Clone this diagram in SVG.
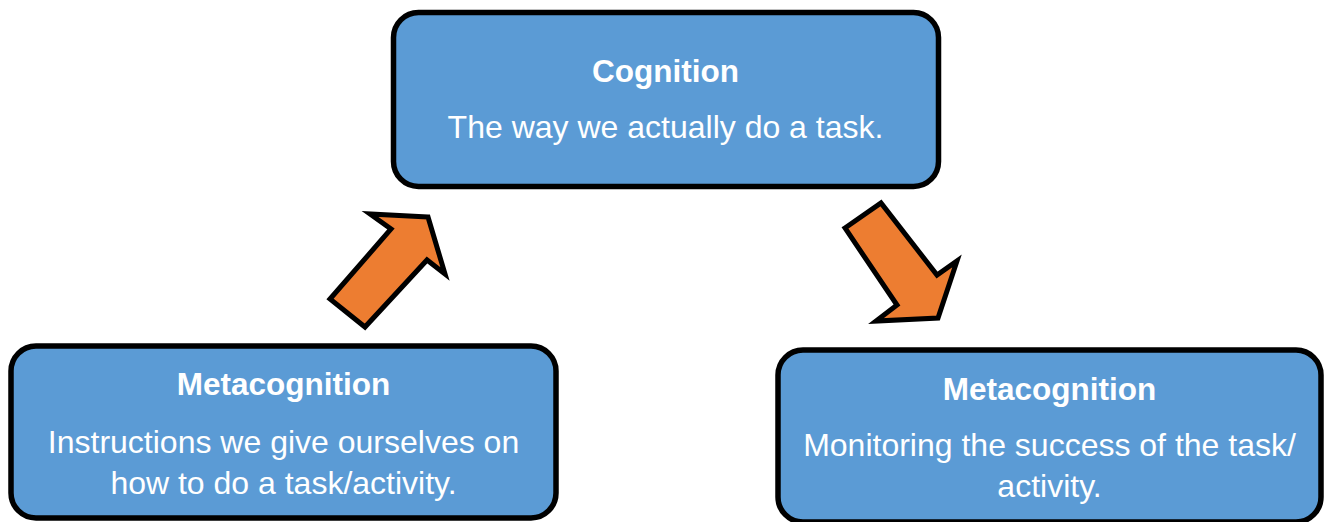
<svg xmlns="http://www.w3.org/2000/svg" width="1326" height="522" viewBox="0 0 1326 522">
<style>
.box{fill:#5B9BD5;stroke:#000;stroke-width:5.5}
.arrow{fill:#ED7D31;stroke:#000;stroke-width:5;stroke-linejoin:miter;stroke-miterlimit:10}
.t{font-family:"Liberation Sans",Arial,sans-serif;fill:#fff;text-anchor:middle;font-size:32px}
.b{font-weight:bold;font-size:31.5px}
</style>
<rect width="1326" height="522" fill="#fff"/>
<g id="connectors">
<polygon id="arrow-up" class="arrow" points="428,217 370,214 391,229 330,299 365,327 427,260 445,274"/>
<polygon id="arrow-down" class="arrow" points="845,228 881,203 937,275 957,261 938,318 876,321 897,305"/>
</g>
<g id="cognition">
<rect class="box" x="393.5" y="12.5" width="545" height="174" rx="25"/>
<text class="t b" x="665.5" y="82">Cognition</text>
<text class="t" x="665.5" y="137.5">The way we actually do a task.</text>
</g>
<g id="metacognition-left">
<rect class="box" x="11" y="346" width="545" height="172" rx="25"/>
<text class="t b" x="283.5" y="394.5">Metacognition</text>
<text class="t" x="283.5" y="452.5">Instructions we give ourselves on</text>
<text class="t" x="283.5" y="493.5">how to do a task/activity.</text>
</g>
<g id="metacognition-right">
<rect class="box" x="778" y="350" width="543" height="172" rx="25"/>
<text class="t b" x="1049.5" y="399.5">Metacognition</text>
<text class="t" x="1049.5" y="456">Monitoring the success of the task/</text>
<text class="t" x="1049.5" y="496.5">activity.</text>
</g>
</svg>
